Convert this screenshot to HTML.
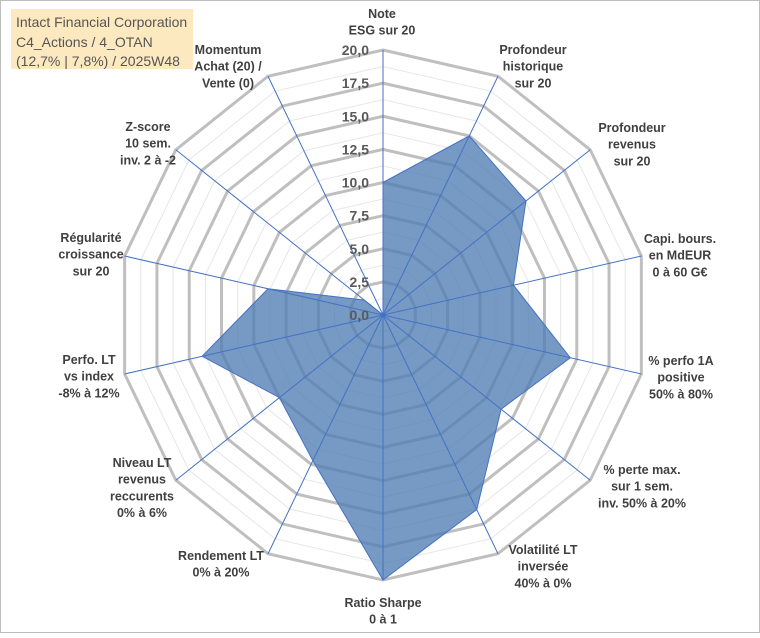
<!DOCTYPE html>
<html><head><meta charset="utf-8">
<style>
body{margin:0;background:#fff;}
#wrap{position:relative;width:760px;height:633px;font-family:"Liberation Sans",sans-serif;}
svg text{font-family:"Liberation Sans",sans-serif;}
</style></head>
<body>
<div id="wrap">
<svg id="chart" width="760" height="633">
<rect x="0.5" y="0.5" width="759" height="632" fill="#fff" stroke="#bdbdbd"/>
<g id="grid"></g><g id="series"></g><g id="spokes"></g><g id="ticks"></g>
<rect x="11" y="9" width="182" height="60" fill="#fde9c0"/>
<text x="16" y="27" font-size="14" fill="#555">Intact Financial Corporation</text>
<text x="16" y="47" font-size="14" fill="#555">C4_Actions / 4_OTAN</text>
<text x="16" y="66" font-size="14" fill="#555">(12,7% | 7,8%) / 2025W48</text>
<g id="labels"></g>
</svg>
</div>
<script>
const categories=[["Note","ESG sur 20"],["Profondeur","historique","sur 20"],["Profondeur","revenus","sur 20"],["Capi. bours.","en MdEUR","0 à 60 G€"],["% perfo 1A","positive","50% à 80%"],["% perte max.","sur 1 sem.","inv. 50% à 20%"],["Volatilité LT","inversée","40% à 0%"],["Ratio Sharpe","0 à 1"],["Rendement LT","0% à 20%"],["Niveau LT","revenus","reccurents","0% à 6%"],["Perfo. LT","vs index","-8% à 12%"],["Régularité","croissance","sur 20"],["Z-score","10 sem.","inv. 2 à -2"],["Momentum","Achat (20) /","Vente (0)"]];
const values=[10,15,13.8,10.1,14.5,11.4,16.3,20,12.2,10,14,8.9,1.8,0];
const tickLabels=["0,0","2,5","5,0","7,5","10,0","12,5","15,0","17,5","20,0"];
const maxV=20;
// layout: label block centre x and first-line centre y (not data)
const labelX=[382,533,632,680,681,642,543,383,221,142,89,91,148,228];
const labelY=[13,49,127,238,360,469,549,602,555,462,359,237,126,49];
const cx=383,cy=315,R=265,N=categories.length;
const NS="http://www.w3.org/2000/svg";
function ang(i){return -Math.PI/2+i*2*Math.PI/N;}
function pt(i,v){const r=v/maxV*R;return [cx+r*Math.cos(ang(i)),cy+r*Math.sin(ang(i))];}
function mk(tag,attrs,parent){const e=document.createElementNS(NS,tag);for(const k in attrs)e.setAttribute(k,attrs[k]);parent.appendChild(e);return e;}
const grid=document.getElementById('grid');
for(let s=1;s<=16;s++){const v=s*1.25;const pts=[];for(let i=0;i<N;i++)pts.push(pt(i,v).join(','));
 const major=s%2===0;
 const p=mk('polygon',{points:pts.join(' '),fill:'none',stroke:major?'#bfbfbf':'#e6e6e6','stroke-width':major?3:1},grid);
 
 }
const ser=document.getElementById('series');
const poly=mk('polygon',{points:values.map((v,i)=>pt(i,v).join(',')).join(' '),fill:'#4f7db3','fill-opacity':0.78,stroke:'#4472c4','stroke-width':1},ser);


const sp=document.getElementById('spokes');
for(let i=0;i<N;i++){const e=pt(i,maxV);const l=mk('line',{x1:cx,y1:cy,x2:e[0],y2:e[1],stroke:'#4472c4','stroke-width':1},sp);
 
 }
const tk=document.getElementById('ticks');
tickLabels.forEach((t,k)=>{const v=k*2.5;const y=cy-v/maxV*R;const tx=mk('text',{x:cx-14,y:y+5,'text-anchor':'end','font-size':14,'font-weight':'bold',fill:'#595959'},tk);tx.textContent=t;
 
 });
const lb=document.getElementById('labels');
categories.forEach((lines,i)=>{
 const g=mk('text',{'font-size':12.5,'font-weight':'bold',fill:'#404040','text-anchor':'middle'},lb);
 
 
 lines.forEach((ln,j)=>{const ts=mk('tspan',{x:labelX[i],y:labelY[i]+5+j*16.7},g);ts.textContent=ln;});
});
</script>
</body></html>
